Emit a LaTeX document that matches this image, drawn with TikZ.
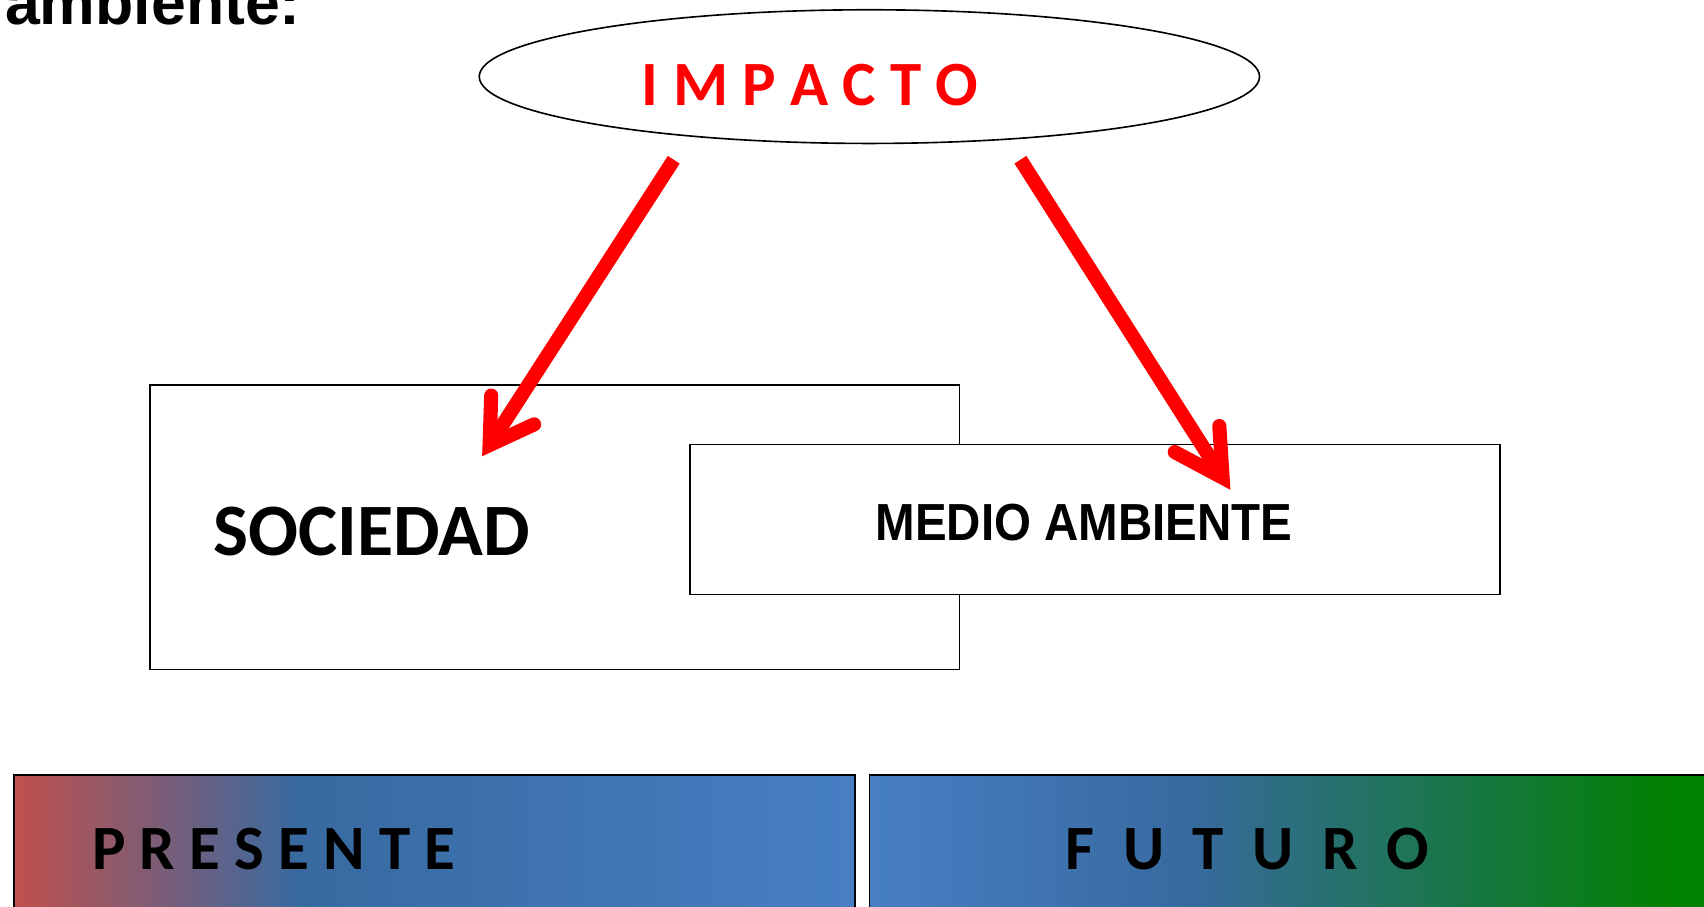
\documentclass[tikz,border=0pt]{standalone}
\usepackage{fontspec}
\usetikzlibrary{shapes.geometric}
\newfontfamily\calibrifont{Carlito}
\newfontfamily\arialfont{Liberation Sans}

\definecolor{impactred}{RGB}{255,0,0}
\definecolor{presred}{RGB}{192,80,77}
\definecolor{deepblue}{RGB}{56,106,160}
\definecolor{paleblue}{RGB}{71,127,196}
\definecolor{futgreen}{RGB}{0,128,0}

\pgfdeclarehorizontalshading{presenteshade}{100bp}{color(0bp)=(presred); color(25bp)=(presred); color(42bp)=(deepblue); color(75bp)=(paleblue); color(100bp)=(paleblue)}
\pgfdeclarehorizontalshading{futuroshade}{100bp}{color(0bp)=(paleblue); color(25bp)=(paleblue); color(43.4bp)=(deepblue); color(71.8bp)=(futgreen); color(100bp)=(futgreen)}

\tikzset{every picture/.style={line width=0.75pt}}
\tikzset{
	box/.style={draw, rectangle, inner sep=0pt},
	shaft/.style={draw=impactred, line width=6.5pt, line cap=butt},
	barb/.style={draw=impactred, line width=6.5pt, line cap=round, line join=miter},
	label/.style={anchor=base west, inner sep=0pt}}

\begin{document}
\begin{tikzpicture}[x=0.5pt,y=0.5pt,yscale=-1,xscale=1]
	\useasboundingbox (0,0) rectangle (1568,834);

	% Text Node
	\node[label] (titulo) at (4,23) {\arialfont\bfseries\fontsize{28.8}{34}\selectfont ambiente:};

	%Shape: Ellipse
	\node[draw, ellipse, minimum width=359pt, minimum height=61.5pt, inner sep=0pt] (impacto) at (800,70.5) {};
	% Text Node
	\node[label, text=impactred] (impacto-txt) at (590,97) {\calibrifont\bfseries\fontsize{29}{35}\selectfont I M P A C T O};

	%Shape: Rectangle
	\node[box, minimum width=372.5pt, minimum height=131pt] (sociedad) at (510.5,485) {};
	%Shape: Rectangle
	\node[box, fill=white, minimum width=372.5pt, minimum height=69pt] (medio) at (1007.5,478) {};
	% Text Node
	\node[label] (sociedad-txt) at (196,511) {\calibrifont\bfseries\fontsize{34}{40}\selectfont SOCIEDAD};
	% Text Node
	\node[label, xscale=0.91] (medio-txt) at (805,497) {\arialfont\bfseries\fontsize{24}{29}\selectfont MEDIO AMBIENTE};

	%Shape: Shaded bars
	\path[shading=presenteshade] (13,713) rectangle (787,860);
	\draw (13,860) -- (13,713) -- (787,713) -- (787,860);
	\path[shading=futuroshade] (800,713) rectangle (1590,860);
	\draw (800,860) -- (800,713) -- (1590,713);
	% Text Node
	\node[label] (presente) at (84,800) {\calibrifont\bfseries\fontsize{29}{35}\selectfont P R E S E N T E};
	% Text Node
	\node[label] (futuro) at (980,800) {\calibrifont\bfseries\fontsize{29}{35}\selectfont F~~U~~T~~U~~R~~O};

	% Arrows
	\coordinate (izq-start) at (620,147);
	\coordinate (izq-tip) at (450.5,409.5);
	\coordinate (izq-b1) at (452,364);
	\coordinate (izq-b2) at (491.5,390.5);
	\coordinate (der-start) at (939,147);
	\coordinate (der-tip) at (1125,439.5);
	\coordinate (der-b1) at (1122,392);
	\coordinate (der-b2) at (1081,416);

	\draw[shaft] (izq-start) -- (izq-tip);
	\draw[barb] (izq-b1) -- (izq-tip) -- (izq-b2);
	\draw[shaft] (der-start) -- (der-tip);
	\draw[barb] (der-b1) -- (der-tip) -- (der-b2);

\end{tikzpicture}
\end{document}
